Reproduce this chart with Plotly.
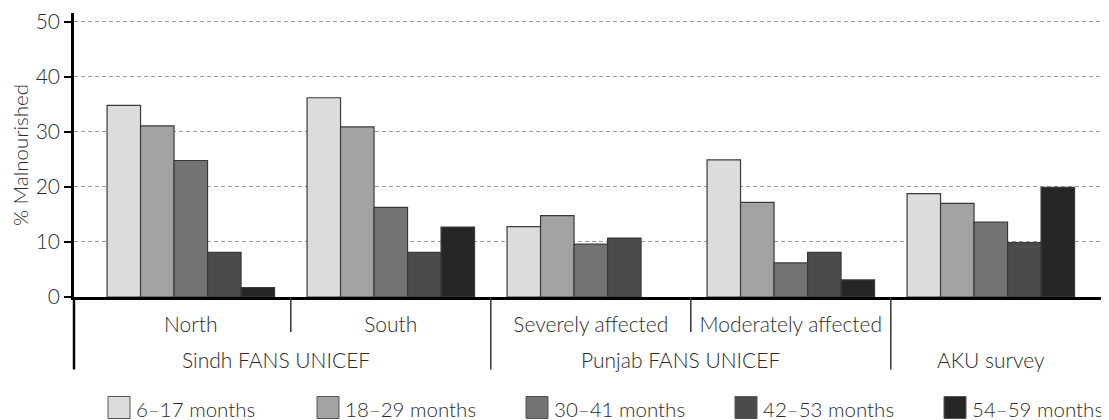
import plotly.graph_objects as go

# ---- data ----
subcategories = ["North", "South", "Severely affected", "Moderately affected", "AKU survey"]
sub_labels = ["North", "South", "Severely affected", "Moderately affected", ""]
group_names = ["Sindh FANS UNICEF", "Punjab FANS UNICEF", "AKU survey"]
group_of = [0, 0, 1, 1, 2]

series_names = ["6\u201317 months", "18\u201329 months", "30\u201341 months", "42\u201353 months", "54\u201359 months"]
m6_17 = [34.8, 36.2, 12.8, 24.9, 18.8]
m18_29 = [31.1, 30.9, 14.8, 17.2, 17.0]
m30_41 = [24.8, 16.3, 9.6, 6.2, 13.6]
m42_53 = [8.1, 8.1, 10.7, 8.1, 9.9]
m54_59 = [1.7, 12.7, None, 3.1, 19.9]
series_values = [m6_17, m18_29, m30_41, m42_53, m54_59]

y_ticks = [0, 10, 20, 30, 40, 50]

# ---- style ----
colors = ["#dcdcdc", "#a3a3a3", "#737373", "#4b4b4b", "#262626"]
outline = "#3a3a3a"
FONT = "Lato"
TXT = "#2b2b2b"
FS = 21
FW = 300
group_label_shift = [-15, -10, 0]

def f(size=FS):
    return dict(family=FONT, size=size, color=TXT, weight=FW)

fig = go.Figure()
for name, vals, col in zip(series_names, series_values, colors):
    fig.add_trace(go.Bar(
        x=subcategories, y=vals, name=name,
        marker=dict(color=col, line=dict(color=outline, width=1.2)),
        showlegend=False,
    ))

# page body has an 8px margin: figure is 8px smaller so it fills the 1109x420 window
fig.update_layout(
    width=1101, height=412,
    margin=dict(l=66, r=0, t=5, b=123, autoexpand=False),
    paper_bgcolor="white", plot_bgcolor="white",
    barmode="group", bargap=0.1625, bargroupgap=0,
    font=f(),
)

fig.update_xaxes(
    type="category", categoryorder="array", categoryarray=subcategories,
    range=[-0.584, 4.591], automargin=False,
    tickvals=subcategories, ticktext=sub_labels,
    ticks="", showgrid=False, zeroline=False,
    showline=True, linecolor="black", linewidth=2.5,
    tickfont=f(),
    ticklabelstandoff=7,
)
fig.update_yaxes(
    range=[0, 51.6], tickvals=y_ticks, automargin=False,
    showgrid=True, gridcolor="#9a9a9a", gridwidth=1, griddash="4px,3px",
    zeroline=False,
    showline=True, linecolor="black", linewidth=2.5,
    ticks="outside", ticklen=7, tickwidth=2, tickcolor="black",
    tickfont=f(),
    title=dict(text="% Malnourished", font=f(20.5), standoff=6),
)

# extension of the y axis line below the plot
fig.add_shape(type="line", xref="paper", yref="paper", x0=0, x1=0,
              ysizemode="pixel", yanchor=0, y0=0, y1=-72.5,
              line=dict(color="black", width=2.5))

# dividers between subcategories (short) and groups (long)
for i in range(len(subcategories) - 1):
    long = group_of[i] != group_of[i + 1]
    fig.add_shape(type="line", xref="x", yref="paper", x0=i + 0.5, x1=i + 0.5,
                  ysizemode="pixel", yanchor=0, y0=0, y1=-72.5 if long else -35,
                  line=dict(color="#333333", width=1.5))

# group labels
for g, gname in enumerate(group_names):
    idx = [i for i, gg in enumerate(group_of) if gg == g]
    xc = (idx[0] + idx[-1]) / 2
    fig.add_annotation(x=xc, xref="x", xshift=group_label_shift[g],
                       y=0, yref="paper", yshift=-62,
                       text=gname, showarrow=False, yanchor="middle", xanchor="center",
                       font=f())

# legend (manual, boxes + labels)
for k, (name, col) in enumerate(zip(series_names, colors)):
    x0 = 34 + 209 * k
    fig.add_shape(type="rect", xref="paper", yref="paper",
                  xsizemode="pixel", xanchor=0, x0=x0, x1=x0 + 22,
                  ysizemode="pixel", yanchor=0, y0=-99.5, y1=-121.5,
                  fillcolor=col, line=dict(color="#555555", width=1))
    fig.add_annotation(xref="paper", x=0, xshift=x0 + 26, y=0, yref="paper", yshift=-112,
                       text=name, showarrow=False, xanchor="left", yanchor="middle",
                       font=f(20.5))

fig.write_html("out.html")
